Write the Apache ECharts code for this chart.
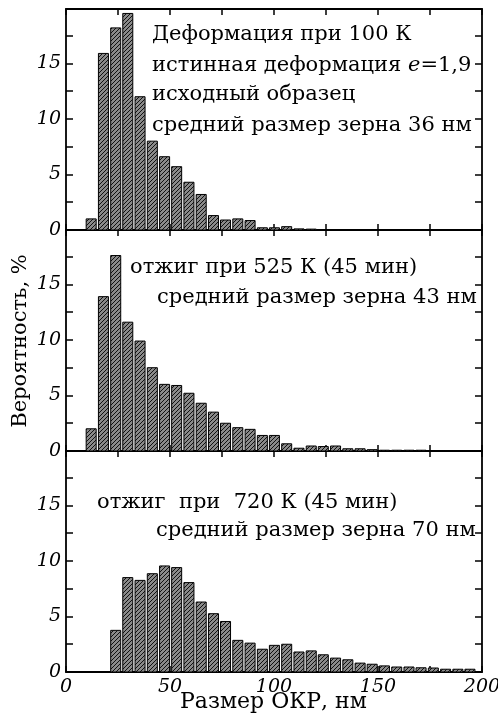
<!DOCTYPE html>
<html>
<head>
<meta charset="utf-8">
<script src="https://cdn.jsdelivr.net/npm/echarts@6/dist/echarts.min.js"></script>
<style>html,body{margin:0;padding:0;background:#fff}#c{width:498px;height:718px}</style>
</head>
<body>
<div id="c"></div>
<script>
// ---- data ----
const binCenters = [12.1, 18.0, 23.9, 29.7, 35.6, 41.5, 47.4, 53.2, 59.1, 65.0, 70.9, 76.7, 82.6, 88.5, 94.4, 100.2,
  106.1, 112.0, 117.9, 123.7, 129.6, 135.5, 141.4, 147.2, 153.1, 159.0, 164.9, 170.7, 176.6, 182.5, 188.4, 194.2];
const binWidth = 5.875;
const deformedStartBin = 0;
const deformedValues = [1.0, 15.9, 18.2, 19.5, 12.0, 8.0, 6.6, 5.7, 4.3, 3.2, 1.3, 0.9, 1.0, 0.85, 0.2, 0.2, 0.3, 0.1, 0.08];
const anneal525StartBin = 0;
const anneal525Values = [2.0, 13.9, 17.6, 11.6, 9.9, 7.5, 6.0, 5.9, 5.2, 4.3, 3.5, 2.5, 2.1, 1.95, 1.4, 1.4, 0.65, 0.25, 0.45, 0.4, 0.45, 0.2, 0.2, 0.12, 0.07, 0.07, 0.07, 0.07];
const anneal720StartBin = 2;
const anneal720Values = [3.75, 8.5, 8.25, 8.85, 9.55, 9.4, 8.05, 6.3, 5.25, 4.55, 2.85, 2.6, 2.05, 2.4, 2.5, 1.8, 1.9, 1.55, 1.25, 1.1, 0.8, 0.7, 0.55, 0.45, 0.45, 0.38, 0.36, 0.25, 0.25, 0.25];
const xTickLabels = [0, 50, 100, 150, 200];
const yTickLabels = [0, 5, 10, 15];
const xTitle = 'Размер ОКР, нм';
const yTitle = 'Вероятность, %';

// ---- hatch pattern ----
const tile = document.createElement('canvas');
tile.width = 4; tile.height = 4;
const tctx = tile.getContext('2d');
tctx.fillStyle = '#8a8a8a'; tctx.fillRect(0, 0, 4, 4);
tctx.fillStyle = '#111';
for (let i = 0; i < 4; i++) tctx.fillRect(i, 3 - i, 1, 1);
const hatch = { image: tile, repeat: 'repeat' };

const chart = echarts.init(document.getElementById('c'), null, { renderer: 'canvas' });

const grids = [
  { left: 66, right: 16, top: 9, height: 221, outerBoundsMode: 'none', containLabel: false },
  { left: 66, right: 16, top: 230, height: 221, outerBoundsMode: 'none', containLabel: false },
  { left: 66, right: 16, top: 451, height: 221, outerBoundsMode: 'none', containLabel: false }
];
const axisLineStyle = { color: '#000', width: 1.8 };
const labelFont = { fontFamily: 'DejaVu Serif', fontStyle: 'italic', fontSize: 19, color: '#000' };

const xAxes = [], yAxes = [];
grids.forEach((g, i) => {
  const isBottom = i === grids.length - 1;
  xAxes.push({
    type: 'value', gridIndex: i, min: 0, max: 200, interval: 25, position: 'bottom',
    axisLine: { show: true, onZero: false, lineStyle: axisLineStyle },
    axisTick: { show: true, inside: true, length: 6, lineStyle: { color: '#000', width: 1.5 } },
    splitLine: { show: false },
    axisLabel: Object.assign({ show: isBottom, margin: 6, hideOverlap: false,
      formatter: v => xTickLabels.includes(v) ? String(v) : '' }, labelFont)
  });
  xAxes.push({
    type: 'value', gridIndex: i, min: 0, max: 200, interval: 25, position: 'top',
    axisLine: { show: true, onZero: false, lineStyle: axisLineStyle },
    axisTick: { show: true, inside: true, length: 6, lineStyle: { color: '#000', width: 1.5 } },
    splitLine: { show: false }, axisLabel: { show: false }
  });
  yAxes.push({
    type: 'value', gridIndex: i, min: 0, max: 19.9, interval: 2.5, position: 'left',
    axisLine: { show: true, onZero: false, lineStyle: axisLineStyle },
    axisTick: { show: true, inside: true, length: 7, lineStyle: { color: '#000', width: 1.5 } },
    splitLine: { show: false },
    axisLabel: Object.assign({ margin: 5, showMaxLabel: false, hideOverlap: false,
      formatter: v => yTickLabels.includes(v) ? String(v) : '' }, labelFont)
  });
  yAxes.push({
    type: 'value', gridIndex: i, min: 0, max: 19.9, interval: 2.5, position: 'right',
    axisLine: { show: true, onZero: false, lineStyle: axisLineStyle },
    axisTick: { show: true, inside: true, length: 7, lineStyle: { color: '#000', width: 1.5 } },
    splitLine: { show: false }, axisLabel: { show: false }
  });
});

function renderBar(params, api) {
  const c = api.value(0), v = api.value(1);
  const p0 = api.coord([c - binWidth * 0.41, v]);
  const p1 = api.coord([c + binWidth * 0.41, 0]);
  return {
    type: 'rect',
    shape: { x: p0[0], y: p0[1], width: p1[0] - p0[0], height: p1[1] - p0[1] },
    style: { fill: hatch, stroke: '#000', lineWidth: 1 }
  };
}
function toData(values, start) { return values.map((v, i) => [binCenters[start + i], v]); }

const seriesDefs = [
  [deformedValues, deformedStartBin],
  [anneal525Values, anneal525StartBin],
  [anneal720Values, anneal720StartBin]
];
const series = seriesDefs.map((d, i) => ({
  type: 'custom', xAxisIndex: i * 2, yAxisIndex: i * 2, renderItem: renderBar,
  data: toData(d[0], d[1]), z: 1, animation: false
}));

const FONT = '21px "DejaVu Serif"';
function label(x, y, text) {
  return { type: 'text', left: x, top: y, z: 10, style: { text: text, font: FONT, fill: '#000' } };
}

chart.setOption({
  animation: false,
  grid: grids,
  xAxis: xAxes,
  yAxis: yAxes,
  series: series,
  graphic: [
    label(152, 24, 'Деформация при 100 К'),
    { type: 'text', left: 152, top: 55, z: 10, style: {
        text: 'истинная деформация {it|e}=1,9', font: FONT, fill: '#000',
        rich: { it: { fontFamily: 'DejaVu Serif', fontStyle: 'italic', fontSize: 21 } } } },
    label(152, 84, 'исходный образец'),
    label(152, 115, 'средний размер зерна 36 нм'),
    label(130, 257, 'отжиг при 525 К (45 мин)'),
    label(157, 287, 'средний размер зерна 43 нм'),
    label(97, 492, 'отжиг  при  720 К (45 мин)'),
    label(156, 520, 'средний размер зерна 70 нм'),
    { type: 'text', left: 180, top: 691, z: 10,
      style: { text: xTitle, font: '22px "DejaVu Serif"', fill: '#000' } },
    { type: 'text', x: 21, y: 341, rotation: Math.PI / 2, z: 10,
      style: { text: yTitle, font: '21px "DejaVu Serif"', fill: '#000', textAlign: 'center', textVerticalAlign: 'middle' } }
  ]
});
</script>
</body>
</html>
